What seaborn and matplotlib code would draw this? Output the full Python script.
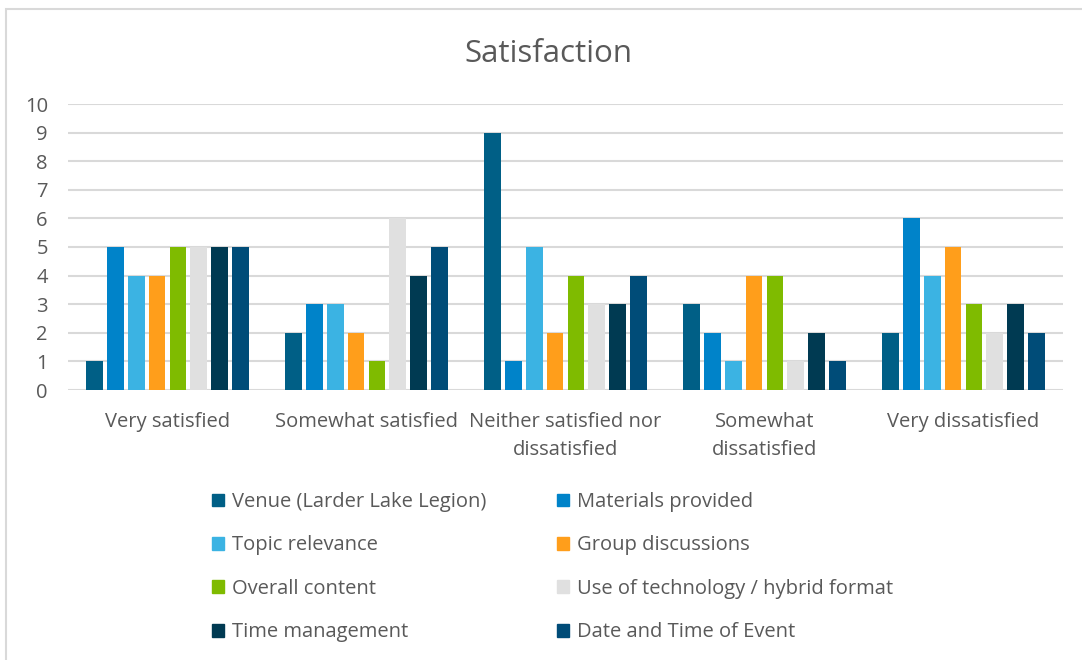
import matplotlib
matplotlib.use('Agg')
import matplotlib.pyplot as plt
import matplotlib.patches as mpatches
import pandas as pd
import seaborn as sns

categories = ['Very satisfied', 'Somewhat satisfied', 'Neither satisfied nor\ndissatisfied',
              'Somewhat\ndissatisfied', 'Very dissatisfied']
series = ['Venue (Larder Lake Legion)', 'Materials provided', 'Topic relevance',
          'Group discussions', 'Overall content', 'Use of technology / hybrid format',
          'Time management', 'Date and Time of Event']
venue = [1, 2, 9, 3, 2]
materials = [5, 3, 1, 2, 6]
topic = [4, 3, 5, 1, 4]
group = [4, 2, 2, 4, 5]
overall = [5, 1, 4, 4, 3]
technology = [5, 6, 3, 1, 2]
time_mgmt = [5, 4, 3, 2, 3]
date_time = [5, 5, 4, 1, 2]
colors = ['#005F86', '#0083C9', '#3BB3E3', '#FF9E1B', '#7FBB00', '#E0E0E0', '#003A52', '#004C78']

values = [venue, materials, topic, group, overall, technology, time_mgmt, date_time]
rows = []
for s, vals in zip(series, values):
    for c, v in zip(categories, vals):
        rows.append({'category': c, 'series': s, 'value': v})
df = pd.DataFrame(rows)

sns.set_style('white')
plt.rcParams['font.family'] = ['Open Sans', 'DejaVu Sans']
txt = '#595959'
fs = 14.5

fig = plt.figure(figsize=(10.82, 6.6), dpi=100)
fig.patches.append(mpatches.Rectangle((6 / 1082, -0.1), 1.2, 1 - 9 / 660 + 0.1,
                                      transform=fig.transFigure, fill=False,
                                      edgecolor='#D9D9D9', linewidth=1.5))
ax = fig.add_axes([68 / 1082, 1 - 390 / 660, 995 / 1082, 286 / 660])
sns.barplot(data=df, x='category', y='value', hue='series', palette=colors,
            order=categories, hue_order=series, width=0.84, gap=0.2,
            saturation=1, linewidth=0, ax=ax, legend=False)
ax.set_ylim(0, 10)
ax.set_xlim(-0.5, 4.5)
ax.set_yticks(range(0, 11))
ax.yaxis.grid(True, color='#D9D9D9', linewidth=1.5)
ax.set_axisbelow(True)
for sp in ax.spines.values():
    sp.set_visible(False)
ax.tick_params(axis='x', length=0, labelsize=fs, colors=txt, pad=16)
ax.tick_params(axis='y', length=0, labelsize=fs, colors=txt, pad=14.5)
ax.set_xlabel('')
ax.set_ylabel('')
for lab in ax.get_xticklabels():
    lab.set_linespacing(1.5)
fig.text(548 / 1082, 1 - 54 / 660, 'Satisfaction', ha='center', va='center',
         fontsize=22.5, color=txt)

# legend fills row by row, so reorder for matplotlib's column filling
handles = [mpatches.Patch(color=c, label=s) for c, s in zip(colors, series)]
handles = handles[0::2] + handles[1::2]
fig.legend(handles=handles, loc='upper left', bbox_to_anchor=(194 / 1082, 1 - 474 / 660),
           ncol=2, frameon=False, fontsize=fs, labelcolor=txt, handlelength=0.6,
           handleheight=0.6, handletextpad=0.4, columnspacing=3.5, labelspacing=1.16)

fig.savefig('out.png', dpi=100)
